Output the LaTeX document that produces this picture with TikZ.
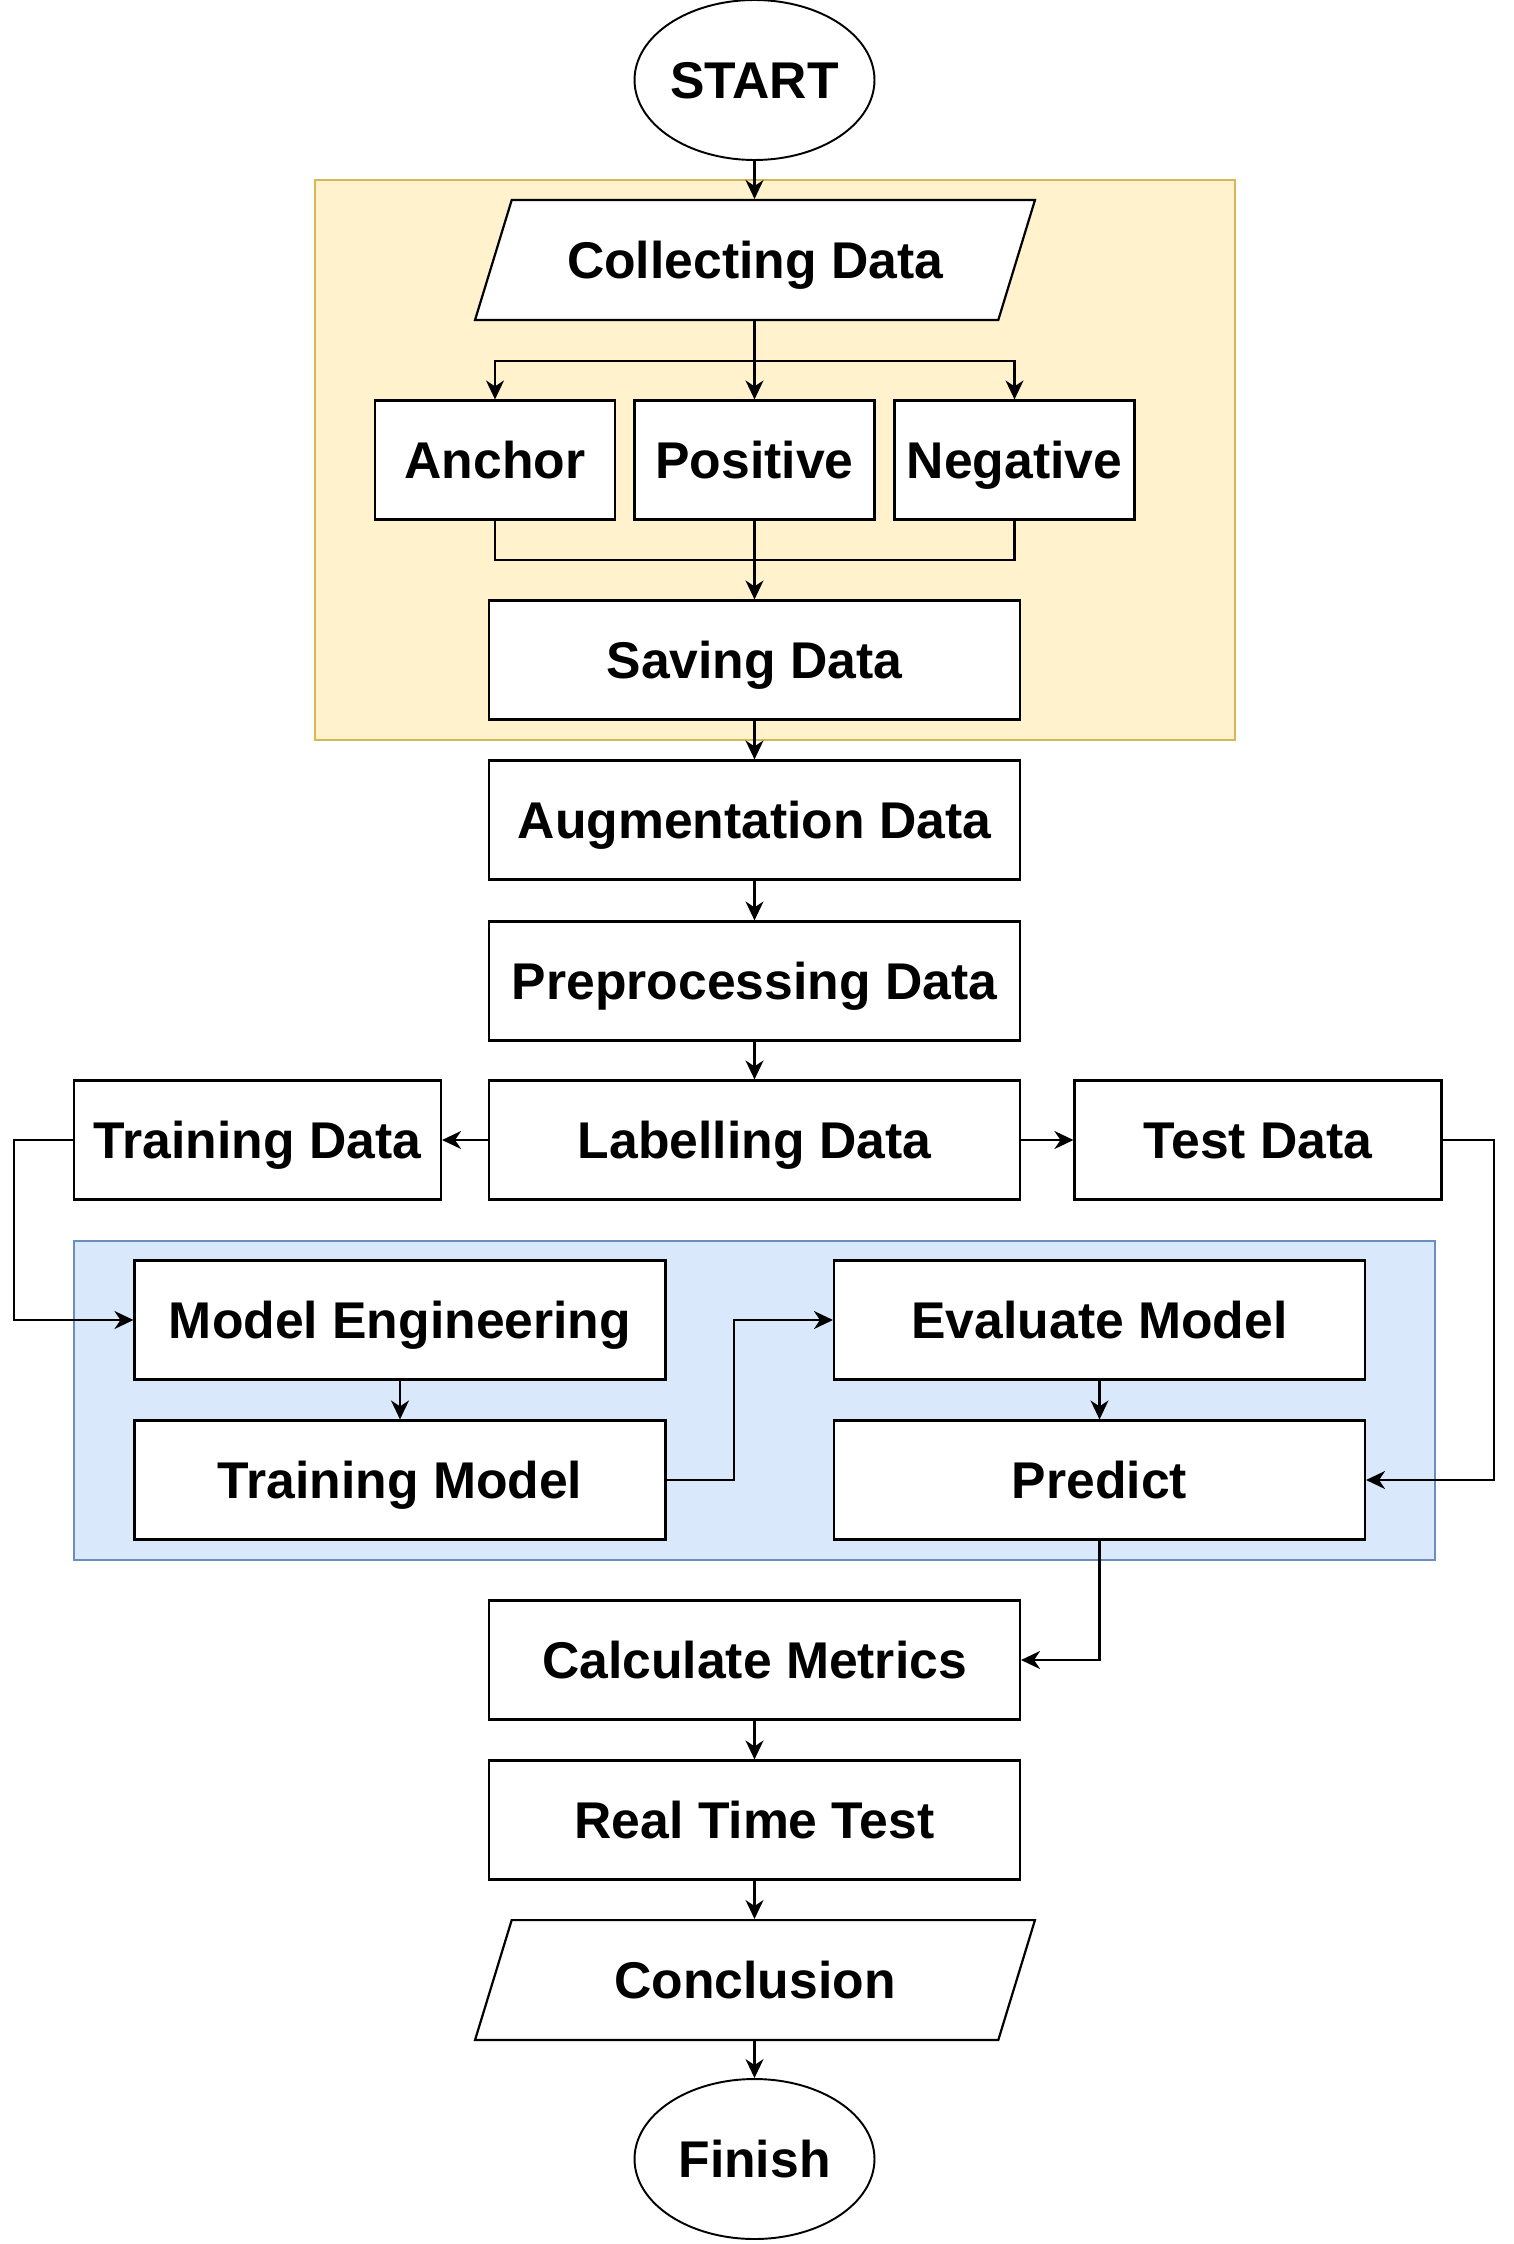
\documentclass[tikz,border=0pt]{standalone}
\usepackage{fontspec}
\setmainfont{Liberation Sans}
\usepackage{tikz}
\usetikzlibrary{arrows.meta,positioning,shapes.geometric}
\definecolor{tinta}{HTML}{000000}
\definecolor{fondoamar}{HTML}{FFF2CC}
\definecolor{bordeamar}{HTML}{D6B656}
\definecolor{fondoazul}{HTML}{DAE8FC}
\definecolor{bordeazul}{HTML}{6C8EBF}
\tikzset{
  texto/.style={font=\fontsize{29.4}{34}\selectfont\bfseries,text=tinta,text height=21.2pt,text depth=0pt},
  caja/.style={rectangle,draw=tinta,fill=white,line width=1.25pt,inner sep=0pt,minimum width=10.62cm,minimum height=2.38cm,texto},
  cajachica/.style={caja,minimum width=4.8cm},
  cajadatos/.style={caja,minimum width=7.34cm},
  terminal/.style={ellipse,draw=tinta,fill=white,line width=1.1pt,inner sep=0pt,minimum width=4.8cm,minimum height=3.2cm,texto},
  entrada/.style={trapezium,trapezium left angle=73,trapezium right angle=107,trapezium stretches body=true,draw=tinta,fill=white,line width=1.25pt,inner xsep=0pt,inner ysep=0.826cm,minimum width=11.2cm,texto},
  grupoamar/.style={draw=bordeamar,fill=fondoamar,line width=0.8pt},
  grupoazul/.style={draw=bordeazul,fill=fondoazul,line width=0.8pt},
  linea/.style={draw=tinta,line width=1.2pt},
  flecha/.style={linea,-{Stealth[length=3.8mm,width=3.6mm,inset=1.2mm]}},
}
\begin{document}
\begin{tikzpicture}[x=0.02cm,y=-0.02cm]
\useasboundingbox (0,0) rectangle (1514,2244);
% grupos de fondo
\draw[grupoamar] (315,180) rectangle (1235,740);
\draw[grupoazul] (74,1241) rectangle (1435,1560);
% nodos
\node[terminal] (inicio) at (754.5,80) {START};
\node[entrada] (recoleccion) at (755,260) {Collecting Data};
\node[cajachica] (ancla) at (495,460) {Anchor};
\node[cajachica] (positivo) at (754.5,460) {Positive};
\node[cajachica] (negativo) at (1014.5,460) {Negative};
\node[caja] (guardado) at (754.5,660) {Saving Data};
\node[caja] (aumento) at (754.5,820) {Augmentation Data};
\node[caja] (preproceso) at (754.5,981) {Preprocessing Data};
\node[caja] (etiquetado) at (754.5,1140) {Labelling Data};
\node[cajadatos] (entrenodatos) at (257.5,1140) {Training Data};
\node[cajadatos] (pruebadatos) at (1258,1140) {Test Data};
\node[caja] (ingenieria) at (400,1320) {Model Engineering};
\node[caja] (entrenamiento) at (400,1480) {Training Model};
\node[caja] (evaluacion) at (1099.5,1320) {Evaluate Model};
\node[caja] (prediccion) at (1099.5,1480) {Predict};
\node[caja] (metricas) at (754.5,1660) {Calculate Metrics};
\node[caja] (tiemporeal) at (754.5,1820) {Real Time Test};
\node[entrada] (conclusion) at (755,1980) {Conclusion};
\node[terminal] (fin) at (754.5,2159) {Finish};
% puntos de paso
\coordinate (rama) at (754.5,361);
\coordinate (union) at (754.5,560);
\coordinate (izq) at (14,1140);
\coordinate (medio) at (734,1480);
\coordinate (der) at (1494,1140);
% conectores
\draw[flecha] (inicio.south) -- (inicio.south |- recoleccion.north);
\draw[linea] (positivo.north |- recoleccion.south) -- (rama);
\draw[flecha] (rama) -- (positivo.north);
\draw[flecha] (rama) -| (ancla.north);
\draw[flecha] (rama) -| (negativo.north);
\draw[linea] (ancla.south) |- (union) -| (negativo.south);
\draw[flecha] (positivo.south) -- (guardado.north);
\draw[flecha] (guardado) -- (aumento);
\draw[flecha] (aumento) -- (preproceso);
\draw[flecha] (preproceso) -- (etiquetado);
\draw[flecha] (etiquetado) -- (entrenodatos);
\draw[flecha] (etiquetado) -- (pruebadatos);
\draw[flecha] (entrenodatos.west) -- (izq) |- (ingenieria.west);
\draw[flecha] (ingenieria) -- (entrenamiento);
\draw[flecha] (entrenamiento.east) -- (medio) |- (evaluacion.west);
\draw[flecha] (evaluacion) -- (prediccion);
\draw[flecha] (pruebadatos.east) -- (der) |- (prediccion.east);
\draw[flecha] (prediccion.south) |- (metricas.east);
\draw[flecha] (metricas) -- (tiemporeal);
\draw[flecha] (tiemporeal.south) -- (tiemporeal.south |- conclusion.north);
\draw[flecha] (fin.north |- conclusion.south) -- (fin.north);
\end{tikzpicture}
\end{document}
